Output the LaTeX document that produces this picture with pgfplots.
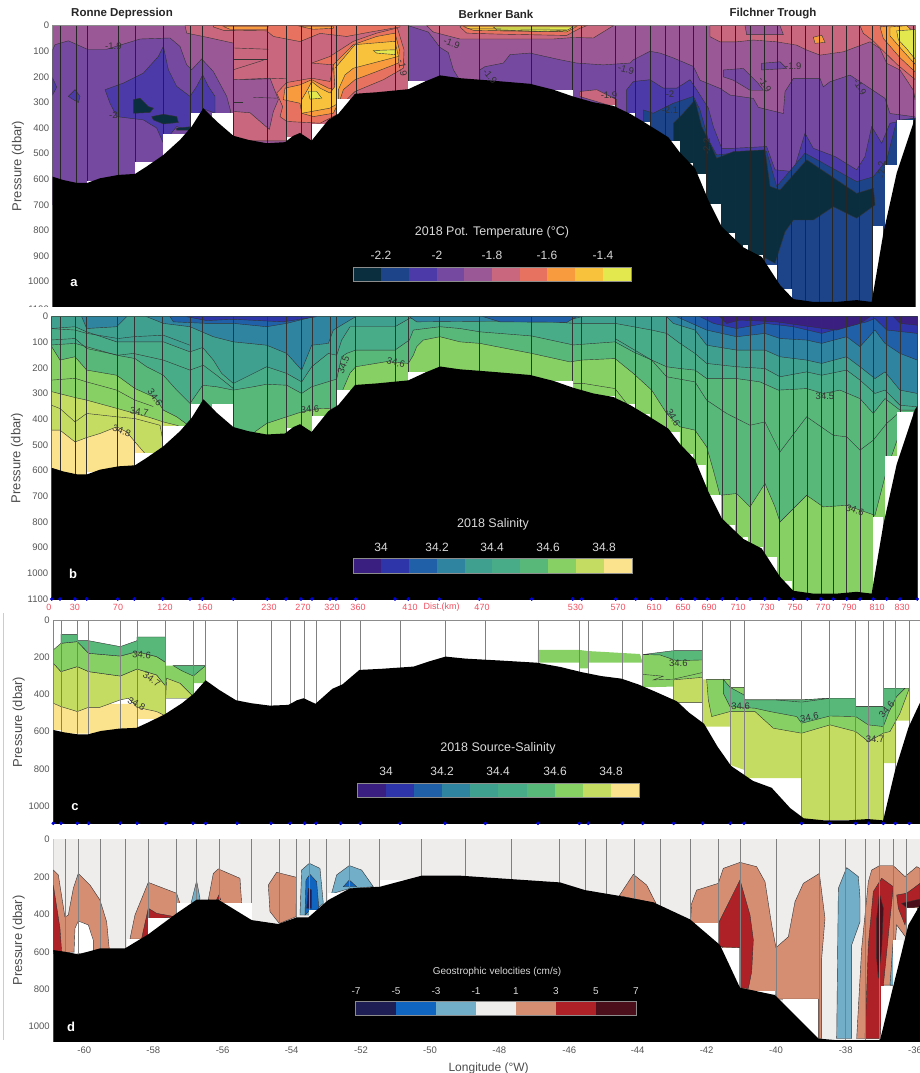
\documentclass[border=0pt]{standalone}
\usepackage{pgfplots}
\usepackage{pgfplotstable}
\usepackage{fontspec}
\setmainfont{Liberation Sans}
\pgfplotsset{compat=1.18}
% temperature bands
\definecolor{t1}{HTML}{0B2E3E}\definecolor{t2}{HTML}{1D4488}\definecolor{t3}{HTML}{4B3AA8}
\definecolor{t4}{HTML}{7549A0}\definecolor{t5}{HTML}{9A5896}\definecolor{t6}{HTML}{C8677D}
\definecolor{t7}{HTML}{E6725F}\definecolor{t8}{HTML}{F79B3E}\definecolor{t9}{HTML}{F9C23C}
\definecolor{t10}{HTML}{E3E84F}
% salinity bands
\definecolor{s1}{HTML}{3A1F80}\definecolor{s2}{HTML}{2E35A8}\definecolor{s3}{HTML}{1F60A8}
\definecolor{s4}{HTML}{2F85A0}\definecolor{s5}{HTML}{3FA090}\definecolor{s6}{HTML}{49AC88}
\definecolor{s7}{HTML}{57B87A}\definecolor{s8}{HTML}{87D164}\definecolor{s9}{HTML}{C5DC62}
\definecolor{s10}{HTML}{FBE38E}
% velocity bands
\definecolor{v1}{HTML}{1E1E55}\definecolor{v2}{HTML}{0F65C0}\definecolor{v3}{HTML}{72AEC8}
\definecolor{v4}{HTML}{EFECEC}\definecolor{v5}{HTML}{D68E73}\definecolor{v6}{HTML}{AE2126}
\definecolor{v7}{HTML}{4A0F1A}
\definecolor{cl}{HTML}{333333}\definecolor{tk}{HTML}{555555}\definecolor{red1}{HTML}{F05060}

\newcommand\poly[2]{\addplot[fill=#1,draw=cl,line width=.4pt] coordinates {#2} --cycle;}
\newcommand\pln[2]{\addplot[fill=#1,draw=none] coordinates {#2} --cycle;}
\newcommand\cln[1]{\addplot[draw=cl,line width=.4pt] coordinates {#1};}
\newcommand\wrect[3]{\addplot[fill=white,draw=none] coordinates {(#1,#3)(#2,#3)(#2,1110)(#1,1110)} --cycle;}
\newcommand\lab[4]{\node[font=\fontsize{9.5}{10}\selectfont,text=black!80,rotate=#4,inner sep=0pt] at (axis cs:#1,#2) {#3};}
\newcommand\cb[5]{\fill[#5] (#1pt,-#2pt) rectangle (#3pt,-#4pt);}
\newcommand\tx[4]{\node[font=\fontsize{#3}{#3}\selectfont,#4,inner sep=0pt] at (#1pt,-#2pt)}

\pgfplotstableread[row sep=\\]{
x y\\ 150 590\\ 158 590\\ 190 603\\ 230 614\\ 262 614\\ 300 596\\ 355 583\\ 405 579\\ 440 550\\ 490 505\\ 540 446\\ 575 394\\ 610 322\\ 650 374\\ 700 430\\ 745 446\\ 800 459\\ 855 455\\ 880 430\\ 900 419\\ 935 449\\ 985 368\\ 1015 344\\ 1065 266\\ 1130 260\\ 1225 248\\ 1275 218\\ 1320 194\\ 1380 205\\ 1480 215\\ 1590 227\\ 1660 250\\ 1720 277\\ 1780 299\\ 1840 313\\ 1890 344\\ 1940 383\\ 2005 436\\ 2040 496\\ 2085 557\\ 2125 681\\ 2165 785\\ 2230 866\\ 2285 903\\ 2340 1013\\ 2380 1068\\ 2440 1079\\ 2510 1079\\ 2570 1072\\ 2615 1079\\ 2650 811\\ 2690 576\\ 2745 361\\ 2770 320\\ 2770 1110\\ 150 1110\\
}\bathy
\pgfplotstableread[row sep=\\]{
x y\\ 160 591\\ 195 600\\ 235 614\\ 300 582\\ 375 582\\ 445 507\\ 530 395\\ 590 322\\ 655 322\\ 755 431\\ 835 452\\ 890 417\\ 925 417\\ 985 324\\ 1050 262\\ 1140 253\\ 1265 194\\ 1380 194\\ 1680 230\\ 1755 271\\ 1855 301\\ 1960 336\\ 2070 427\\ 2160 564\\ 2220 792\\ 2325 831\\ 2455 1063\\ 2510 1072\\ 2640 1072\\ 2725 457\\ 2760 351\\ 2760 1110\\ 160 1110\\
}\bathyd
\pgfplotstableread[row sep=\\]{
x y\\ 180 1100\\ 228 1100\\ 262 1100\\ 355 1100\\ 405 1100\\ 490 1100\\ 572 1100\\ 608 1100\\ 700 1100\\ 803 1100\\ 858 1100\\ 903 1100\\ 935 1100\\ 993 1100\\ 1010 1100\\ 1068 1100\\ 1185 1100\\ 1225 1100\\ 1318 1100\\ 1438 1100\\ 1593 1100\\ 1718 1100\\ 1745 1100\\ 1847 1100\\ 1905 1100\\ 1952 1100\\ 1997 1100\\ 2038 1100\\ 2080 1100\\ 2118 1100\\ 2165 1100\\ 2205 1100\\ 2250 1100\\ 2293 1100\\ 2332 1100\\ 2373 1100\\ 2415 1100\\ 2458 1100\\ 2498 1100\\ 2538 1100\\ 2578 1100\\ 2618 1100\\ 2658 1100\\ 2698 1100\\ 2740 1100\\
}\stA
\pgfplotstableread[row sep=\\]{
x y\\ 155 1100\\ 180 1100\\ 225 1100\\ 260 1100\\ 353 1100\\ 403 1100\\ 488 1100\\ 570 1100\\ 607 1100\\ 700 1100\\ 802 1100\\ 858 1100\\ 903 1100\\ 936 1100\\ 990 1100\\ 1008 1100\\ 1067 1100\\ 1185 1100\\ 1225 1100\\ 1318 1100\\ 1438 1100\\ 1595 1100\\ 1718 1100\\ 1745 1100\\ 1847 1100\\ 1907 1100\\ 1954 1100\\ 2000 1100\\ 2044 1100\\ 2085 1100\\ 2122 1100\\ 2167 1100\\ 2210 1100\\ 2250 1100\\ 2294 1100\\ 2337 1100\\ 2380 1100\\ 2422 1100\\ 2463 1100\\ 2500 1100\\ 2540 1100\\ 2580 1100\\ 2620 1100\\ 2660 1100\\ 2700 1100\\ 2752 1100\\
}\stB
\pgfplotstableread[row sep=\\]{
x y\\ 160 1095\\ 183 1095\\ 232 1095\\ 266 1095\\ 361 1095\\ 411 1095\\ 497 1095\\ 579 1095\\ 617 1095\\ 711 1095\\ 813 1095\\ 870 1095\\ 914 1095\\ 948 1095\\ 1022 1095\\ 1081 1095\\ 1200 1095\\ 1335 1095\\ 1456 1095\\ 1614 1095\\ 1738 1095\\ 1765 1095\\ 1867 1095\\ 1928 1095\\ 2021 1095\\ 2108 1095\\ 2191 1095\\ 2232 1095\\ 2405 1095\\ 2489 1095\\ 2567 1095\\ 2606 1095\\ 2650 1095\\ 2686 1095\\ 2728 1095\\
}\stC
\pgfplotstableread[row sep=\\]{
x y\\ 195 1080\\ 235 1080\\ 300 1080\\ 375 1080\\ 445 1080\\ 530 1080\\ 590 1080\\ 657 1080\\ 755 1080\\ 837 1080\\ 890 1080\\ 927 1080\\ 980 1080\\ 1048 1080\\ 1137 1080\\ 1265 1080\\ 1395 1080\\ 1535 1080\\ 1678 1080\\ 1755 1080\\ 1820 1080\\ 1902 1080\\ 1980 1080\\ 2072 1080\\ 2155 1080\\ 2220 1080\\ 2328 1080\\ 2457 1080\\ 2537 1080\\ 2597 1080\\ 2638 1080\\ 2680 1080\\ 2720 1080\\
}\stD

\newcommand\whiterects{%
\wrect{262}{285}{605}\wrect{405}{462}{533}\wrect{490}{555}{425}\wrect{573}{610}{342}\wrect{635}{700}{342}\wrect{860}{880}{435}\wrect{935}{975}{385}\wrect{1010}{1050}{286}\wrect{1225}{1275}{215}%
\wrect{1660}{1718}{250}\wrect{1830}{1845}{310}\wrect{1885}{1905}{342}\wrect{1930}{1950}{378}\wrect{2010}{2040}{449}\wrect{2060}{2080}{535}\wrect{2090}{2118}{579}\wrect{2130}{2162}{696}\wrect{2185}{2205}{811}\wrect{2230}{2245}{857}\wrect{2270}{2290}{896}\wrect{2300}{2332}{935}\wrect{2350}{2375}{1030}%
\wrect{2618}{2650}{781}\wrect{2655}{2690}{544}\wrect{2692}{2740}{370}}

\pgfplotsset{panel/.style={
  scale only axis, y dir=reverse, clip=true,
  axis line style={draw=black!45,line width=.5pt},
  xtick=\empty, major tick length=0pt,
  tick label style={font=\fontsize{9.5}{10}\selectfont,text=tk},
  /pgf/number format/1000 sep={},/pgf/number format/assume math mode=true,
  ylabel={Pressure (dbar)},
  ylabel style={font=\fontsize{13}{13}\selectfont,text=black!70},
  anchor=north west, axis on top=false}}

\begin{document}
\begin{tikzpicture}
\useasboundingbox (0pt,0pt) rectangle (920pt,-1073pt);

%%%%%%%%%%%%%%%%%%%%%%%%%%%%%%%% panel a
\begin{axis}[panel,at={(52.7pt,-25.7pt)},width=862.3pt,height=280.3pt,xmin=158,xmax=2745,ymin=0,ymax=1095,ytick={0,100,...,1000},ylabel style={at={(axis description cs:-.0,.5)},yshift=25pt}]
\pln{t5}{(158,0)(2745,0)(2745,1110)(158,1110)}
\poly{t4}{(158,94)(165,74)(205,59)(262,92)(320,92)(365,74)(420,52)(510,48)(540,81)(560,153)(575,172)(605,130)(640,179)(680,276)(692,335)(692,500)(158,700)}
\poly{t3}{(315,250)(370,224)(430,185)(475,120)(490,81)(505,172)(530,237)(570,276)(590,237)(608,192)(625,237)(645,276)(645,342)(610,325)(575,413)(530,394)(490,459)(470,400)(430,368)(350,355)(330,303)}
\poly{t3}{(205,276)(225,250)(240,276)(235,300)(215,285)}
\poly{t3}{(158,205)(170,240)(158,270)}
\poly{t1}{(400,289)(420,283)(445,316)(460,322)(450,339)(400,342)}
\poly{t1}{(455,355)(490,346)(530,355)(535,378)(490,384)(460,368)}
\poly{t1}{(530,400)(570,395)(570,408)(530,408)}
\poly{t6}{(555,0)(560,29)(620,45)(700,68)(700,450)(1225,450)(1225,0)}
\poly{t5}{(700,211)(810,205)(835,289)(820,335)(808,405)(790,385)(750,340)(700,335)}
\cln{(700,87)(805,92)}\cln{(700,130)(800,130)}\cln{(700,172)(790,135)}\cln{(730,211)(860,205)}\cln{(700,300)(730,300)}\cln{(760,280)(830,283)}
\poly{t7}{(640,5)(670,18)(800,20)(820,42)(900,62)(960,30)(1040,42)(1110,25)(1200,5)(1200,0)(640,0)}
\poly{t8}{(670,3)(690,14)(800,14)(805,3)}
\poly{t8}{(900,3)(940,14)(1000,10)(1000,3)}
\poly{t7}{(935,146)(990,120)(1060,61)(1130,29)(1192,9)(1212,94)(1210,166)(1150,211)(1065,257)(1040,289)(1010,348)(960,381)(860,374)(840,355)(848,316)(830,263)(860,222)(935,205)(990,218)(1000,153)}
\poly{t8}{(1000,153)(1060,74)(1130,42)(1185,29)(1198,94)(1195,146)(1130,179)(1065,211)(1030,250)(1020,289)(1000,342)(940,355)(905,342)(900,303)(850,289)(855,244)(900,231)(935,211)(985,244)(1005,250)}
\poly{t9}{(1005,166)(1065,74)(1185,61)(1195,120)(1060,166)(1035,192)(1015,250)(1015,303)(990,322)(935,335)(905,342)(905,289)(925,244)(935,218)(960,244)(990,263)(1005,237)}
\poly{t10}{(925,257)(950,257)(965,283)(930,287)}
\poly{t10}{(1120,97)(1185,94)(1185,113)(1130,107)}
\poly{t4}{(1225,0)(1285,25)(1320,85)(1345,105)(1360,172)(1380,215)(1225,300)}
\poly{t6}{(1280,0)(1300,25)(1380,52)(1500,52)(1660,52)(1720,46)(1780,48)(1840,0)}
\poly{t7}{(1380,5)(1400,29)(1500,33)(1700,38)(1740,10)(1760,0)(1385,0)}
\poly{t9}{(1390,3)(1420,18)(1700,24)(1730,3)}
\poly{t10}{(1480,5)(1490,16)(1620,22)(1700,18)(1720,5)}
\cln{(1400,12)(1700,14)}\cln{(1500,20)(1690,22)}
\poly{t4}{(1440,172)(1455,160)(1510,146)(1530,113)(1590,107)(1680,133)(1730,146)(1810,153)(1890,146)(1900,133)(1950,100)(1980,107)(2020,126)(2080,159)(2100,213)(2160,245)(2190,271)(2260,284)(2275,319)(2350,343)(2355,258)(2380,206)(2460,206)(2470,239)(2490,219)(2550,193)(2610,245)(2655,284)(2670,343)(2745,356)(2745,1110)(1440,1110)}
\poly{t6}{(1740,257)(1790,250)(1850,289)(1850,320)(1740,277)}
\poly{t6}{(2130,0)(2130,43)(2160,63)(2210,63)(2260,56)(2330,63)(2390,76)(2420,95)(2460,115)(2530,102)(2610,63)(2640,89)(2660,147)(2700,173)(2740,252)(2745,290)(2745,0)}
\poly{t4}{(2170,173)(2230,167)(2275,226)(2290,252)(2250,252)(2200,213)(2170,200)}
\poly{t4}{(2285,147)(2340,141)(2360,167)(2285,173)}
\poly{t5}{(2235,0)(2340,0)(2350,35)(2240,35)}
\poly{t8}{(2440,45)(2465,37)(2475,65)(2445,69)}
\poly{t7}{(2580,0)(2640,0)(2745,120)(2745,210)(2690,150)(2620,60)(2590,30)}
\poly{t8}{(2640,5)(2680,0)(2745,70)(2745,180)(2700,125)(2650,50)}
\poly{t9}{(2670,5)(2720,0)(2745,30)(2745,150)(2710,100)(2670,40)}
\poly{t10}{(2690,20)(2745,15)(2745,130)(2720,90)(2695,55)}
\poly{t3}{(1880,250)(1900,218)(1950,211)(1990,244)(2030,244)(2070,211)(2090,250)(2125,322)(2140,394)(2165,479)(2200,479)(2300,472)(2325,563)(2380,570)(2415,420)(2440,479)(2505,511)(2570,563)(2595,511)(2615,394)(2645,459)(2670,381)(2745,361)(2745,1110)(1880,1110)}
\poly{t2}{(1930,329)(1960,342)(2020,303)(2080,276)(2100,329)(2125,446)(2150,505)(2200,498)(2300,492)(2330,628)(2415,498)(2570,609)(2620,590)(2660,525)(2690,370)(2745,361)(2745,1110)(1930,1110)}
\poly{t1}{(2020,381)(2050,342)(2085,290)(2105,394)(2130,459)(2150,518)(2200,492)(2295,485)(2310,628)(2340,642)(2420,524)(2570,655)(2620,635)(2625,700)(2570,752)(2500,707)(2440,759)(2380,759)(2355,805)(2325,928)(2285,900)(2200,900)(2020,700)}
\addplot[ycomb,draw=black!85,line width=.55pt] table[x=x,y=y] {\stA};
\whiterects
\addplot[fill=black,draw=none] table[x=x,y=y] {\bathy} --cycle;
\lab{340}{82}{-1.9}{0}\lab{1355}{70}{-1.9}{-20}\lab{1878}{170}{-1.9}{-15}\lab{1827}{272}{-1.9}{0}\lab{2010}{329}{-2.1}{0}\lab{2010}{267}{-2}{0}\lab{2380}{159}{-1.9}{0}\lab{1208}{166}{-1.9}{-80}\lab{2295}{231}{-1.9}{-60}\lab{2580}{240}{-1.9}{-60}\lab{1470}{198}{-1.9}{-50}\lab{340}{348}{-2}{0}\lab{2120}{472}{-2.2}{90}\lab{2645}{563}{-2.2}{90}
\end{axis}
\node[font=\fontsize{9.5}{10}\selectfont,text=tk,inner sep=0pt,anchor=east] at (49pt,-309pt) {1100};
\fill[white] (0pt,-306.5pt) rectangle (51pt,-312pt);

%%%%%%%%%%%%%%%%%%%%%%%%%%%%%%%% panel b
\begin{axis}[panel,at={(51.7pt,-316.7pt)},width=865.6pt,height=282.3pt,xmin=155,xmax=2752,ymin=0,ymax=1100,ytick={0,100,...,1100},ylabel style={at={(axis description cs:-.0,.5)},yshift=25pt}]
\pln{s10}{(155,0)(2752,0)(2752,1110)(155,1110)}
\poly{s9}{(155,0)(2752,0)(2752,1110)(435,1110)(435,533)(405,488)(380,449)(350,429)(300,455)(260,471)(225,488)(180,442)(155,442)}
\cln{(155,345)(180,358)(225,410)(260,377)(350,390)(405,397)(480,423)(490,494)}
\poly{s8}{(155,0)(2752,0)(2752,1110)(570,1110)(565,440)(530,423)(490,410)(450,393)(405,377)(350,357)(260,325)(225,315)(155,292)}
\cln{(155,247)(225,240)(260,254)(350,286)(405,325)(460,350)}
\poly{s7}{(155,0)(155,117)(180,169)(225,156)(260,208)(350,228)(405,280)(465,315)(490,364)(530,390)(565,423)(570,600)(760,600)(765,448)(800,416)(860,390)(905,371)(960,358)(1010,356)(1030,280)(1050,220)(1067,195)(1160,175)(1225,182)(1240,150)(1250,117)(1270,91)(1320,78)(1380,98)(1440,104)(1595,143)(1710,176)(1745,169)(1845,163)(1900,221)(1955,286)(2000,377)(2040,429)(2085,442)(2120,507)(2140,598)(2160,696)(2210,689)(2250,741)(2295,650)(2325,741)(2340,800)(2420,696)(2470,741)(2540,735)(2625,774)(2660,598)(2700,449)(2752,371)(2752,0)}
\cln{(1720,260)(1750,260)(1845,280)(1880,338)}
\poly{s6}{(155,0)(155,110)(225,104)(260,117)(350,150)(405,163)(440,195)(490,228)(530,286)(570,338)(608,267)(650,273)(700,286)(760,273)(800,263)(860,267)(905,299)(935,273)(1010,243)(1025,156)(1040,143)(1067,130)(1185,130)(1228,91)(1240,52)(1320,39)(1380,46)(1440,59)(1595,75)(1720,110)(1845,98)(1900,137)(1955,169)(2000,195)(2040,202)(2085,208)(2120,241)(2210,241)(2280,254)(2335,286)(2420,280)(2470,299)(2520,286)(2580,319)(2620,377)(2655,319)(2700,364)(2752,364)(2752,0)}
\cln{(1845,85)(1955,169)(2000,234)(2085,254)(2120,325)(2180,377)(2250,423)(2295,410)(2340,527)(2420,390)(2500,462)(2540,468)(2580,520)(2620,481)(2660,416)(2700,371)}
\poly{s5}{(155,0)(155,46)(225,39)(260,59)(350,98)(405,98)(490,98)(570,137)(608,120)(640,169)(665,221)(700,260)(800,195)(860,221)(905,254)(935,195)(985,143)(1010,150)(1025,91)(1050,39)(1067,39)(1185,39)(1228,7)(1395,13)(1595,13)(1720,26)(1845,26)(1955,52)(2000,65)(2040,104)(2085,143)(2120,182)(2210,195)(2295,202)(2340,234)(2420,215)(2465,228)(2540,208)(2580,247)(2625,299)(2655,286)(2700,345)(2752,351)(2752,0)}
\cln{(150,46)(225,52)(260,65)(355,85)(400,78)(490,72)(570,111)}
\cln{(150,91)(225,85)(260,124)(355,150)(400,143)(490,169)(570,208)(610,189)(650,228)(700,280)}
\poly{s4}{(245,0)(260,46)(350,39)(380,0)}
\poly{s4}{(440,0)(490,26)(570,39)(640,78)(700,98)(800,111)(860,143)(905,208)(935,111)(985,104)(1000,52)(1050,13)(1067,0)}
\poly{s4}{(2000,0)(2020,26)(2085,52)(2120,111)(2210,130)(2295,130)(2340,156)(2420,169)(2465,182)(2540,156)(2580,195)(2625,241)(2655,215)(2700,286)(2752,299)(2752,0)}
\poly{s4}{(1228,0)(1250,20)(1700,15)(1745,0)}
\poly{s3}{(510,0)(520,20)(620,26)(700,26)(800,39)(860,26)(940,0)}
\poly{s3}{(2030,0)(2120,52)(2210,78)(2295,65)(2340,85)(2420,91)(2465,104)(2540,78)(2580,117)(2625,52)(2655,104)(2700,143)(2752,169)(2752,0)}
\poly{s3}{(1450,0)(1500,20)(1700,22)(1730,0)}
\poly{s2}{(560,0)(620,15)(700,10)(850,20)(950,0)}
\poly{s2}{(2100,0)(2140,26)(2210,46)(2295,26)(2380,39)(2465,65)(2540,39)(2600,20)(2625,7)(2660,52)(2752,65)(2752,0)}
\poly{s1}{(2160,0)(2180,26)(2220,13)(2330,20)(2470,46)(2510,52)(2580,26)(2610,0)}
\poly{s1}{(2680,0)(2700,26)(2752,33)(2752,0)}
\addplot[ycomb,draw=black!80,line width=.55pt] table[x=x,y=y] {\stB};
\whiterects
\addplot[fill=black,draw=none] table[x=x,y=y] {\bathy} --cycle;
\lab{365}{445}{34.8}{-20}\lab{418}{370}{34.7}{-10}\lab{465}{315}{34.6}{-55}\lab{930}{361}{34.6}{5}\lab{1030}{188}{34.5}{70}\lab{1188}{179}{34.6}{-15}\lab{2020}{393}{34.6}{-60}\lab{2475}{309}{34.5}{0}\lab{2565}{754}{34.6}{-20}
\end{axis}
\begin{axis}[scale only axis,hide axis,clip=false,y dir=reverse,anchor=north west,at={(51.7pt,-316.7pt)},width=865.6pt,height=282.3pt,xmin=155,xmax=2752,ymin=0,ymax=1100]
\addplot[only marks,mark=*,mark size=1.6pt,color=blue!85!black] table[x=x,y=y] {\stB};
\end{axis}

%%%%%%%%%%%%%%%%%%%%%%%%%%%%%%%% panel c
\begin{axis}[panel,at={(53.3pt,-620.7pt)},width=866.7pt,height=202.6pt,xmin=160,xmax=2760,ymin=0,ymax=1095,ytick={0,200,...,1000},ylabel style={at={(axis description cs:-.0,.5)},yshift=25pt}]
\pln{s10}{(183,450)(497,450)(497,530)(411,530)(411,610)(183,610)}
\pln{s10}{(160,446)(183,446)(183,590)(160,590)}
\poly{s9}{(160,230)(183,275)(232,248)(266,275)(361,299)(411,261)(470,293)(497,353)(497,515)(470,491)(411,468)(385,419)(361,428)(300,468)(266,468)(232,491)(183,464)(160,446)}
\poly{s8}{(160,158)(183,122)(232,113)(266,176)(361,191)(411,167)(470,194)(497,225)(497,353)(470,293)(411,261)(361,299)(266,275)(232,248)(183,275)(160,230)}
\poly{s7}{(183,74)(232,74)(232,108)(266,108)(361,140)(411,108)(411,88)(497,88)(497,225)(470,194)(411,167)(361,191)(266,176)(232,113)(183,122)}
\pln{s8}{(497,243)(617,243)(617,338)(580,338)(580,419)(497,419)}
\poly{s9}{(500,311)(540,338)(575,401)(580,419)(497,419)}
\poly{s7}{(520,243)(617,243)(580,299)(545,270)}
\pln{s8}{(1614,158)(1738,158)(1765,164)(1920,180)(1928,227)(1765,227)(1765,257)(1738,257)(1738,227)(1614,227)}
\pln{s8}{(1928,185)(2108,162)(2108,306)(2020,356)(1928,360)}
\poly{s9}{(2020,320)(2108,306)(2108,443)(2020,443)}
\poly{s7}{(1928,183)(2020,162)(2108,162)(2108,212)(2030,216)(1980,185)}
\cln{(1928,290)(1990,300)(1960,320)(2020,316)(2108,280)}
\pln{s9}{(2108,317)(2190,317)(2190,360)(2232,360)(2232,428)(2490,428)(2567,464)(2650,464)(2650,365)(2728,365)(2728,540)(2688,540)(2688,770)(2650,770)(2650,1076)(2405,1076)(2405,851)(2232,851)(2232,806)(2190,779)(2190,572)(2108,572)}
\poly{s8}{(2120,317)(2190,317)(2190,360)(2232,360)(2232,428)(2405,428)(2490,419)(2567,464)(2650,464)(2650,365)(2728,365)(2700,500)(2670,599)(2650,608)(2605,653)(2567,599)(2490,563)(2405,608)(2320,581)(2265,491)(2190,491)(2135,518)(2125,428)}
\poly{s7}{(2170,317)(2190,360)(2232,401)(2235,428)(2405,428)(2490,419)(2567,419)(2567,464)(2650,464)(2650,365)(2715,365)(2690,410)(2665,500)(2650,572)(2605,563)(2567,518)(2490,515)(2405,554)(2390,518)(2310,491)(2265,473)(2190,464)(2170,392)}
\cln{(2328,428)(2405,440)(2490,419)}
\addplot[ycomb,draw=black!50,line width=.7pt] table[x=x,y=y] {\stC};
\addplot[fill=black,draw=none] table[x expr={617+(\thisrow{x}-610)*1.0137},y=y] {\bathy} --cycle;
\lab{425}{185}{34.6}{-5}\lab{455}{317}{34.7}{-35}\lab{410}{450}{34.8}{-30}\lab{2035}{230}{34.6}{0}\lab{2222}{464}{34.6}{0}\lab{2428}{522}{34.6}{10}\lab{2660}{479}{34.6}{50}\lab{2625}{641}{34.7}{0}
\end{axis}
\begin{axis}[scale only axis,hide axis,clip=false,y dir=reverse,anchor=north west,at={(53.3pt,-620.7pt)},width=866.7pt,height=202.6pt,xmin=160,xmax=2760,ymin=0,ymax=1095]
\addplot[only marks,mark=*,mark size=1.6pt,color=blue!85!black] table[x=x,y=y] {\stC};
\end{axis}

%%%%%%%%%%%%%%%%%%%%%%%%%%%%%%%% panel d
\begin{axis}[panel,at={(53.3pt,-839.3pt)},width=866.7pt,height=202.4pt,xmin=160,xmax=2760,ymin=0,ymax=1080,ytick={0,200,...,1000},
 xtick={253,460,668,875,1083,1290,1498,1708,1913,2120,2328,2537,2745},
 xticklabels={-60,-58,-56,-54,-52,-50,-48,-46,-44,-42,-40,-38,-36},
 x tick label style={yshift=-2pt},
 xlabel={Longitude (°W)},xlabel style={font=\fontsize{12}{12}\selectfont,text=black!70,at={(axis description cs:.5,0)},anchor=north,yshift=-18pt,xshift=2pt},
 ylabel style={at={(axis description cs:-.0,.5)},yshift=25pt}]
\pln{v4}{(160,0)(2760,0)(2760,1110)(160,1110)}
\poly{v5}{(160,164)(175,190)(195,415)(205,404)(220,262)(235,182)(270,244)(300,324)(320,440)(328,590)(300,590)(160,610)}
\poly{v6}{(160,244)(180,475)(185,600)(160,600)}
\addplot[fill=white,draw=cl,line width=.4pt] coordinates {(222,614)(225,475)(235,436)(265,457)(280,538)(280,600)} --cycle;
\poly{v5}{(390,532)(405,404)(445,230)(530,288)(540,342)(525,422)(445,529)(420,532)}
\poly{v6}{(425,529)(445,368)(470,395)(525,413)(480,422)(445,431)(445,511)}
\poly{v3}{(573,342)(590,222)(600,315)(597,342)}
\poly{v5}{(625,322)(640,182)(655,158)(720,208)(725,342)(660,342)}
\poly{v6}{(650,322)(657,297)(662,322)}
\poly{v5}{(805,244)(830,176)(890,203)(888,413)(838,449)(810,386)}
\poly{v3}{(900,404)(905,164)(928,128)(960,155)(970,342)(930,404)}
\poly{v2}{(915,404)(918,217)(930,187)(950,226)(957,377)(930,377)}
\poly{v1}{(920,368)(925,262)(935,271)(935,368)}
\poly{v3}{(995,288)(1010,190)(1048,140)(1085,164)(1120,253)(1050,262)(1000,288)}
\poly{v2}{(1030,253)(1048,217)(1070,253)}
\poly{v5}{(1858,301)(1900,187)(1940,244)(1968,342)}
\poly{v5}{(2072,427)(2075,342)(2090,271)(2155,235)(2170,155)(2220,123)(2270,146)(2295,226)(2315,457)(2328,578)(2365,520)(2385,333)(2410,235)(2458,182)(2475,422)(2465,635)(2465,1063)(2455,1063)(2455,853)(2328,853)(2328,831)(2250,805)(2220,796)(2160,546)(2155,449)(2072,449)}
\poly{v6}{(2155,449)(2220,217)(2250,404)(2260,537)(2255,707)(2245,796)(2220,792)(2220,578)(2155,573)}
\poly{v3}{(2510,1063)(2515,262)(2540,151)(2575,199)(2580,315)(2580,440)(2555,564)(2555,1063)}
\poly{v5}{(2570,1063)(2585,582)(2605,226)(2615,164)(2638,141)(2680,141)(2715,199)(2750,146)(2760,155)(2760,333)(2720,529)(2690,457)(2680,689)(2680,778)(2640,778)(2640,1063)}
\poly{v6}{(2595,1063)(2605,564)(2620,279)(2645,208)(2680,253)(2670,422)(2650,778)(2640,1063)}
\poly{v7}{(2630,422)(2638,288)(2650,368)(2645,582)(2635,742)(2630,635)}
\poly{v3}{(2670,778)(2680,529)(2685,778)}
\poly{v6}{(2690,297)(2720,288)(2760,235)(2760,333)(2740,368)(2720,404)(2715,457)(2695,368)}
\poly{v7}{(2705,342)(2760,319)(2760,360)(2720,365)}
\addplot[ycomb,draw=black!50,line width=.6pt] table[x=x,y=y] {\stD};
\wrect{445}{510}{422}\wrect{380}{420}{532}\wrect{530}{590}{342}\wrect{660}{755}{342}\wrect{928}{965}{377}\wrect{985}{1030}{288}\wrect{1140}{1265}{217}\wrect{275}{300}{590}%
\wrect{2085}{2155}{449}\wrect{2165}{2218}{578}\wrect{2250}{2325}{810}\wrect{2350}{2455}{853}\wrect{2642}{2675}{781}\wrect{2720}{2750}{368}\wrect{2680}{2710}{537}
\addplot[fill=black,draw=none] table[x=x,y=y] {\bathyd} --cycle;
\end{axis}

%%%%%%%%%%%%%%%%%%%%%%%%%%%%%%%% annotations (picture coordinates)
\tx{122}{14}{11.5}{text=black!85}{\bfseries Ronne Depression};
\tx{496}{14}{11.5}{text=black!85}{\bfseries Berkner Bank};
\tx{773}{14}{11.5}{text=black!85}{\bfseries Filchner Trough};
\tx{74}{283}{13}{text=white}{\bfseries a};
\tx{73}{574}{13}{text=white}{\bfseries b};
\tx{75}{807}{13}{text=white}{\bfseries c};
\tx{71}{1027}{13}{text=white}{\bfseries d};

% colour bar a
\cb{353.3}{267}{381}{281}{t1}\cb{381}{267}{408.7}{281}{t2}\cb{408.7}{267}{436.5}{281}{t3}\cb{436.5}{267}{464}{281}{t4}\cb{464}{267}{492}{281}{t5}\cb{492}{267}{520}{281}{t6}\cb{520}{267}{547}{281}{t7}\cb{547}{267}{575}{281}{t8}\cb{575}{267}{603}{281}{t9}\cb{603}{267}{631}{281}{t10}
\draw[black!45,line width=.5pt] (353.3pt,-267pt) rectangle (631pt,-281pt);
\tx{492}{232}{12.5}{text=black!15}{2018 Pot. Temperature (°C)};
\tx{381}{255}{12}{text=black!15}{-2.2};\tx{437}{255}{12}{text=black!15}{-2};\tx{492}{255}{12}{text=black!15}{-1.8};\tx{547}{255}{12}{text=black!15}{-1.6};\tx{603}{255}{12}{text=black!15}{-1.4};
% colour bar b
\cb{353.5}{558}{381}{573}{s1}\cb{381}{558}{409}{573}{s2}\cb{409}{558}{437}{573}{s3}\cb{437}{558}{465}{573}{s4}\cb{465}{558}{492}{573}{s5}\cb{492}{558}{520}{573}{s6}\cb{520}{558}{548}{573}{s7}\cb{548}{558}{576}{573}{s8}\cb{576}{558}{604}{573}{s9}\cb{604}{558}{632}{573}{s10}
\draw[black!45,line width=.5pt] (353.5pt,-558pt) rectangle (632pt,-573pt);
\tx{493}{524}{12.5}{text=black!15}{2018 Salinity};
\tx{381}{547}{12}{text=black!15}{34};\tx{437}{547}{12}{text=black!15}{34.2};\tx{492}{547}{12}{text=black!15}{34.4};\tx{548}{547}{12}{text=black!15}{34.6};\tx{604}{547}{12}{text=black!15}{34.8};
% colour bar c
\cb{357}{783}{386}{797}{s1}\cb{386}{783}{414}{797}{s2}\cb{414}{783}{442}{797}{s3}\cb{442}{783}{470}{797}{s4}\cb{470}{783}{498}{797}{s5}\cb{498}{783}{527}{797}{s6}\cb{527}{783}{555}{797}{s7}\cb{555}{783}{583}{797}{s8}\cb{583}{783}{611}{797}{s9}\cb{611}{783}{639}{797}{s10}
\draw[black!45,line width=.5pt] (357pt,-783pt) rectangle (639pt,-797pt);
\tx{498}{748}{12.5}{text=black!15}{2018 Source-Salinity};
\tx{386}{771}{12}{text=black!15}{34};\tx{442}{771}{12}{text=black!15}{34.2};\tx{498}{771}{12}{text=black!15}{34.4};\tx{555}{771}{12}{text=black!15}{34.6};\tx{611}{771}{12}{text=black!15}{34.8};
% colour bar d
\cb{355}{1001}{396}{1015}{v1}\cb{396}{1001}{436}{1015}{v2}\cb{436}{1001}{476}{1015}{v3}\cb{476}{1001}{516}{1015}{v4}\cb{516}{1001}{556}{1015}{v5}\cb{556}{1001}{596}{1015}{v6}\cb{596}{1001}{636}{1015}{v7}
\draw[black!45,line width=.5pt] (355pt,-1001pt) rectangle (636pt,-1015pt);
\tx{497}{972}{10}{text=black!15}{Geostrophic velocities (cm/s)};
\tx{356}{991}{10}{text=black!15}{-7};\tx{396}{991}{10}{text=black!15}{-5};\tx{436}{991}{10}{text=black!15}{-3};\tx{476}{991}{10}{text=black!15}{-1};\tx{516}{991}{10}{text=black!15}{1};\tx{556}{991}{10}{text=black!15}{3};\tx{596}{991}{10}{text=black!15}{5};\tx{636}{991}{10}{text=black!15}{7};
% distance labels
\tx{49}{607}{9}{text=red1}{0};\tx{75}{607}{9}{text=red1}{30};\tx{118}{607}{9}{text=red1}{70};\tx{165}{607}{9}{text=red1}{120};\tx{205}{607}{9}{text=red1}{160};\tx{269}{607}{9}{text=red1}{230};\tx{303}{607}{9}{text=red1}{270};\tx{332}{607}{9}{text=red1}{320};\tx{358}{607}{9}{text=red1}{360};\tx{410}{607}{9}{text=red1}{410};\tx{441.5}{607}{9}{text=red1}{Dist.(km)};\tx{482}{607}{9}{text=red1}{470};\tx{575.5}{607}{9}{text=red1}{530};\tx{618}{607}{9}{text=red1}{570};\tx{654}{607}{9}{text=red1}{610};\tx{683}{607}{9}{text=red1}{650};\tx{709}{607}{9}{text=red1}{690};\tx{738}{607}{9}{text=red1}{710};\tx{767}{607}{9}{text=red1}{730};\tx{795}{607}{9}{text=red1}{750};\tx{823}{607}{9}{text=red1}{770};\tx{849}{607}{9}{text=red1}{790};\tx{877}{607}{9}{text=red1}{810};\tx{902}{607}{9}{text=red1}{830};
\draw[black!20,line width=.5pt] (3pt,-613pt) -- (3pt,-1040pt);
\end{tikzpicture}
\end{document}
